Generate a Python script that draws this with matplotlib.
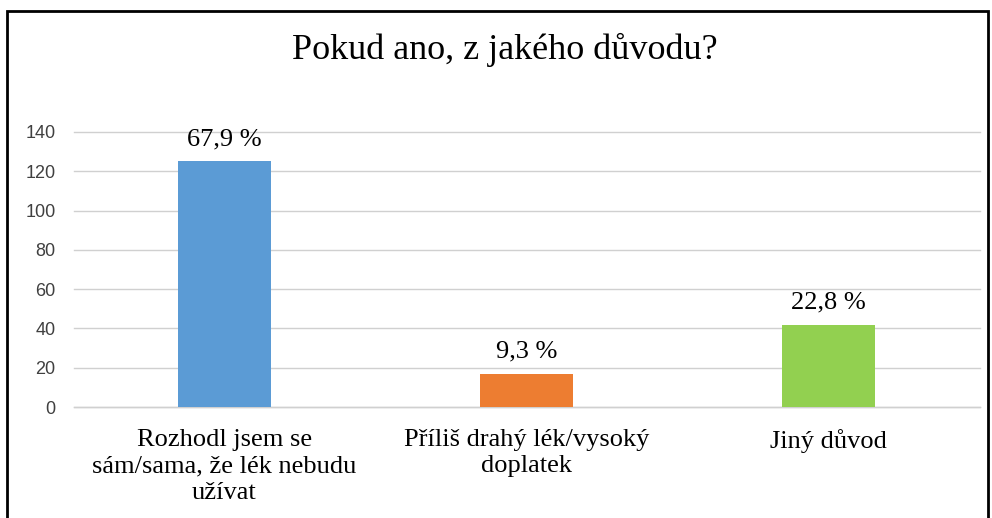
import matplotlib
matplotlib.use("Agg")
import matplotlib.pyplot as plt
from matplotlib.patches import Rectangle

# Chart data
categories = ["Rozhodl jsem se\nsám/sama, že lék nebudu\nužívat",
              "Příliš drahý lék/vysoký\ndoplatek",
              "Jiný důvod"]
counts = [125, 17, 42]
pct_labels = ["67,9 %", "9,3 %", "22,8 %"]
bar_colors = ["#5B9BD5", "#ED7D31", "#92D050"]
y_ticks = [0, 20, 40, 60, 80, 100, 120, 140]

W, H = 992, 518
fig = plt.figure(figsize=(W / 100, H / 100), dpi=100)

# Axes placed in pixel terms
left, right, top, bottom = 73.5, 979.5, 132, 407
ax = fig.add_axes([left / W, 1 - bottom / H, (right - left) / W, (bottom - top) / H])

x = list(range(len(categories)))
ax.bar(x, counts, width=0.31, color=bar_colors, zorder=3)

# Percentage labels above bars
for xi, val, lab in zip(x, counts, pct_labels):
    ax.annotate(lab, (xi, val), xytext=(0, 8), textcoords="offset points",
                ha="center", va="bottom", fontsize=19,
                family="Liberation Serif", color="black")

ax.set_xlim(-0.5, len(categories) - 0.5)
ax.set_ylim(0, 140)
ax.set_yticks(y_ticks)
ax.set_yticklabels([str(t) for t in y_ticks], fontsize=13,
                   family="Liberation Sans", color="#404040")
ax.set_xticks(x)
ax.set_xticklabels(categories, fontsize=19, family="Liberation Serif",
                   color="black", linespacing=1.25, va="top")
ax.tick_params(axis="both", length=0)
ax.tick_params(axis="y", pad=13)
ax.tick_params(axis="x", pad=16)

ax.grid(axis="y", color="#D0D0D0", linewidth=1, zorder=0)
ax.set_axisbelow(True)
for side in ["top", "right", "left"]:
    ax.spines[side].set_visible(False)
ax.spines["bottom"].set_color("#D0D0D0")
ax.spines["bottom"].set_linewidth(1)
for line in ax.get_ygridlines():
    line.set_clip_on(False)

# Title
fig.text(505 / W, 1 - 50 / H, "Pokud ano, z jakého důvodu?", ha="center", va="center",
         fontsize=26, family="Liberation Serif", color="black")

# Outer frame (bottom edge lies outside the image)
frame = Rectangle((7 / W, -0.1), (988 - 7) / W, 1.1 - 11 / H, transform=fig.transFigure,
                  fill=False, edgecolor="black", linewidth=2)
fig.patches.append(frame)

fig.savefig("out.png", dpi=100)
